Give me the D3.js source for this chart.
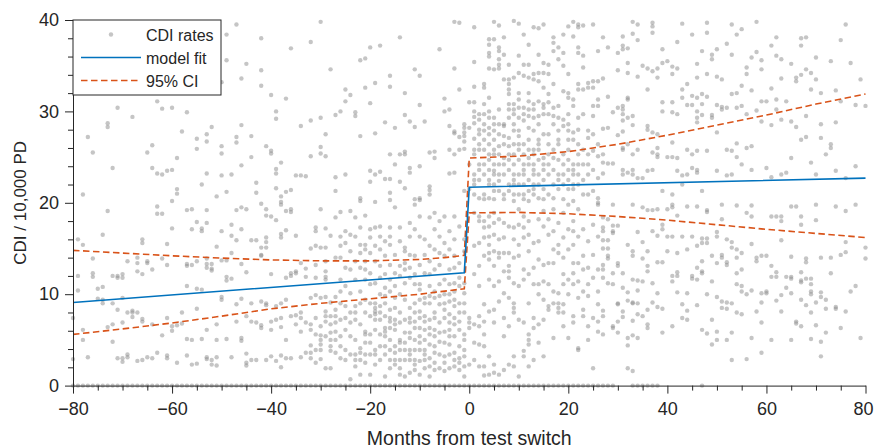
<!DOCTYPE html>
<html><head><meta charset="utf-8">
<script src="https://cdn.jsdelivr.net/npm/d3@7"></script>
<style>
body{margin:0;background:#fff}
svg{display:block}
text{font-family:"Liberation Sans",Arial,Helvetica,sans-serif;fill:#262626}
</style>
</head><body>
<svg id="chart" width="874" height="448"></svg>
<script>
// ---- DATA ----
const xTicks = [-80, -60, -40, -20, 0, 20, 40, 60, 80];
const xMinorTicks = [-75,-70,-65,-55,-50,-45,-35,-30,-25,-15,-10,-5,5,10,15,25,30,35,45,50,55,65,70,75];
const yTicks = [0, 10, 20, 30, 40];
const yMinorTicks = [2,4,6,8,12,14,16,18,22,24,26,28,32,34,36,38];

// model fit (month, CDI per 10,000 PD)
const fitMonths = [-80, -1, 0, 80];
const fitValues = [9.1, 12.35, 21.7, 22.7];
// 95% CI
const ciUpperMonths = [-80,-70,-60,-50,-40,-30,-20,-10,-5,-1,0,10,20,30,40,50,60,70,80];
const ciUpperValues = [14.8,14.5,14.2,13.95,13.75,13.65,13.65,13.8,14.0,14.25,24.9,25.1,25.6,26.4,27.4,28.5,29.6,30.8,31.9];
const ciLowerMonths = [-80,-70,-60,-50,-40,-30,-20,-10,-1,0,10,20,30,40,50,60,70,80];
const ciLowerValues = [5.6,6.2,6.85,7.6,8.4,9.0,9.5,10.0,10.6,18.9,18.95,18.8,18.5,18.1,17.6,17.1,16.65,16.2];

// CDI rates: each row = [month, rate, rate, ...]
const ratesPreHigh = [
[-78,20.9],[-77,27.2],[-76,25.5],[-73,28.7,28.3],[-72,23.8],[-71,30.4],[-68,29.4],[-65,25.5],[-64,26.3,23.8],[-63,31.1,23.2],[-62,30.3,23.1],[-61,23.5],[-60,30.4,23.6,20.2],[-59,24.9,21.5,21.0],[-58,27.8],[-57,29.9],[-55,27.0,25.9],[-54,22.0],[-53,27.5,26.7,23.2],[-52,28.3],[-51,20.7],[-50,33.2,26.2,25.4,23.0],[-49,38.4,35.6,21.2],[-48,23.1],[-47,39.5,27.2,26.6],[-46,33.6,28.5,24.1],[-45,35.2],[-44,27.3,25.0],[-43,22.2,21.1],[-42,38.0,34.5,32.8],[-41,26.2],[-40,31.8,25.7,25.4],[-39,30.0,29.2,23.7,23.2,21.6],[-38,24.4,20.7,20.1],[-37,31.4,21.2],[-36,36.9,21.4],[-35,23.0],[-34,28.4,23.0],[-33,22.9],[-32,37.6,29.0,25.1],[-30,39.8,29.3,26.1,25.4],[-29,27.5,25.1],[-28,34.6],[-27,29.6,22.8,21.3],
[-26,30.0],[-25,32.4,31.1,23.1],[-24,31.8],[-23,29.9,29.5],[-22,35.6,27.3,20.5,20.2],[-21,35.8,32.6],[-20,37.0,30.9,23.5,22.3],[-19,33.1,27.6,23.1,20.1],[-18,37.2,23.4],[-17,28.8,22.6],[-16,33.9,32.7,25.3,22.6,21.1,20.3],[-15,28.2,24.2],[-14,38.1,25.3,22.3],[-13,32.0,29.6,25.6,25.3,21.6],[-12,28.9,23.8,23.3],[-11,34.6,28.3,20.4],[-10,33.9,30.7,24.0,20.5,20.3],[-9,28.9],[-8,25.5,21.8,21.4,20.9],[-7,25.6,24.9],[-6,36.8],[-5,31.4,30.0],[-4,30.2,28.4,25.8,23.2],[-3,39.8,34.7,27.8,27.6,25.3,23.3],[-2,39.7,32.4,27.2,25.8],[-1,28.6,28.2,27.7,27.3,26.7,25.9,21.3]
];
const ratesPreLow = [
[-80,7.4,2.9],[-79,16.0,12.0,10.4],[-78,15.4,6.1,5.0],[-77,3.1],[-76,13.9,12.3,11.9],[-75,10.6,9.5],[-74,16.5,10.8,9.4,9.0],[-73,19.1,6.4],[-72,12.0,9.0,6.7,4.8],[-71,12.0,11.8,8.3,3.0],[-70,12.2,11.8,9.6,6.9,3.0,2.6],[-69,13.6,8.0,3.4,3.1],[-68,8.2,8.0,7.5],[-67,14.0,13.4,12.5,8.0,2.7],[-66,16.0,15.6,12.2,7.3,7.0,2.8],[-65,13.6,13.4,3.1],[-64,12.7,6.7,3.0],[-63,19.6,18.8,3.6],[-62,18.8,13.9,5.5],[-61,15.5,13.2,7.4,3.3,3.0],[-60,17.2,6.5,6.0],[-59,6.6,2.5],[-58,8.0,6.8],[-57,19.2,13.3,13.1,10.9,5.1,3.3],[-56,19.3,17.1,13.2,5.0,2.3],[-55,17.9,13.6,10.6,8.4,2.4],[-54,17.2,16.9,10.5,5.1],[-53,19.2,17.8,13.9,13.3,12.9,6.1,3.1,2.9],[-52,13.3,12.8,12.6,2.8,2.3],[-51,15.2,6.7,5.0,3.1,2.2],[-50,16.9,13.7,9.7,9.4],[-49,13.7,11.9,11.5,5.1],[-48,17.6,16.4,14.5,11.7,3.1],[-47,19.2,15.9,8.9,7.0],[-46,19.5,17.1,13.3,9.5,5.2,4.9],[-45,19.3,12.4,7.6,3.5,2.5,2.2],[-44,15.9,9.0,7.0,2.8],[-43,15.9,6.9,2.8],[-42,19.9,15.1,14.3,14.2,9.2,6.6,6.3],[-41,19.3,18.6,16.2,15.7,15.1,9.0,8.8,2.8],[-40,18.5,12.2,7.0,6.1,3.2],[-39,18.1,8.7,7.2,2.7],[-38,19.8,16.6,16.2,9.0,7.4,6.4,3.3,2.0],[-37,19.1,17.0,11.8,9.4,5.0,3.0],[-36,19.3,19.0,12.3,12.0,7.6,3.0],[-35,16.4,12.5,12.3,7.7,6.7],[-34,13.4,8.0,7.4,5.9,3.1],[-33,12.8,11.9,6.9,3.6],[-32,15.0,9.6,6.7,6.1,4.4,3.6,3.0],[-31,17.3,16.9,15.3,13.2,11.8,9.9,7.4,5.6,3.9,2.5],[-30,19.3,15.1,9.6,6.5,5.5,5.0,4.5,3.9,2.9],[-29,17.2,15.1,13.6,12.5,11.9,11.6,9.7,8.1,7.6,7.0,5.4,1.9],[-28,16.4,9.1,7.6,6.7,5.8,5.0,4.3,3.8,1.9],[-27,18.4,14.0,9.7,8.3,7.6,6.9,5.9,5.0,3.6],
[-26,19.0,16.3,15.3,14.0,11.6,10.3,9.0,7.2,5.4,4.3,3.0],
[-25,16.9,15.6,12.9,10.9,8.7,7.4,6.1,3.9,2.8],
[-24,19.1,16.5,14.7,12.7,10.1,8.0,6.9,5.4,3.4,0.7],
[-23,18.4,16.3,13.6,11.6,8.7,8.0,7.2,5.0,3.4,2.8,2.1],
[-22,17.3,15.4,14.5,12.9,10.3,9.0,6.7,4.1,3.6,2.8,1.2],
[-21,18.6,15.4,14.9,13.6,12.7,11.6,9.4,8.0,5.9,5.6,4.7,3.4,2.5],
[-20,17.1,16.2,14.5,12.3,11.1,9.0,7.6,5.6,4.7,3.4,1.2],
[-19,17.3,15.3,13.6,11.2,9.0,8.5,8.1,7.8,7.2,6.1,3.9,3.4,2.3],
[-18,17.4,16.3,14.9,13.1,11.8,10.0,8.7,8.0,7.2,5.6,4.3,2.8],
[-17,15.8,14.2,12.2,10.7,9.8,9.0,7.6,6.3,5.9,5.4,4.3,3.4,1.0],
[-16,17.3,16.3,15.4,13.2,11.6,10.3,8.3,7.4,7.0,6.3,5.0,3.9,2.8,1.9],
[-15,19.5,14.3,12.3,10.9,9.6,8.5,7.2,6.7,6.1,4.3,3.6,2.8,2.3],
[-14,17.3,15.8,13.1,12.0,10.0,8.0,6.9,5.0,4.7,3.9,2.8,1.9,1.2],
[-13,15.1,14.7,13.4,12.7,11.2,9.4,7.2,5.8,4.7,3.9,2.8,1.0],
[-12,17.8,16.3,14.3,12.9,11.8,8.5,7.4,6.9,5.8,5.2,3.9,3.4,2.8,1.4],
[-11,19.8,17.1,14.2,12.2,11.1,9.0,8.0,7.0,6.3,5.0,3.9,2.8,2.3,1.7],
[-10,18.5,16.3,13.2,11.1,10.5,9.4,8.1,7.4,6.3,5.4,4.7,3.9,2.7,1.2],
[-9,16.0,14.3,12.3,9.6,9.0,7.6,7.0,6.1,5.0,3.9,3.4,2.8,1.9],
[-8,18.4,15.3,13.6,12.2,10.9,9.8,9.0,7.2,6.3,5.6,4.5,3.0,2.1,1.0],
[-7,18.9,17.1,14.9,12.7,10.3,9.6,8.0,7.4,6.1,5.4,4.3,3.6,2.5,1.7],
[-6,18.0,16.3,14.5,13.2,11.1,9.8,8.9,6.9,5.8,4.8,3.4,1.9],
[-5,18.5,15.6,14.2,11.6,10.0,9.0,8.3,7.4,5.9,4.7,3.2,2.5,1.6],
[-4,16.9,14.9,12.7,11.1,10.0,9.2,7.8,6.9,6.1,5.4,4.5,3.4,1.9],
[-3,18.5,16.0,14.2,12.9,11.2,10.3,9.4,8.7,7.4,6.7,5.4,3.6,2.8,2.1],
[-2,17.4,13.4,11.8,10.9,9.0,8.0,7.0,6.1,4.3,3.0,2.5,1.7],
[-1,16.0,14.7,11.2,10.1,9.0,8.0,5.6,5.0,3.9,3.2,2.1,1.0]
];
const ratesPostHigh = [
[0,31.0,28.2,24.2,21.5],
[1,39.2,35.4,32.7,31.0,30.0,29.4,28.7,27.0,25.8,25.3,23.1,22.5,22.0,20.9],
[2,29.7,29.1,28.0,27.5,26.4,25.8,24.2,23.6,22.5,20.5],
[3,33.0,32.6,30.8,29.7,28.6,27.9,26.9,25.8,24.2,23.1,20.9,20.4],
[4,37.9,37.3,36.4,36.0,34.7,31.5,30.0,29.3,28.2,27.5,26.4,25.3,24.7,23.6,22.5,22.0,20.5],
[5,39.8,37.9,34.6,29.3,28.6,27.9,26.9,25.8,25.3,24.2,23.5,23.1,22.0,21.3,20.4],
[6,39.4,37.0,36.6,35.7,35.1,34.7,30.2,28.6,27.5,26.2,25.3,24.2,23.1,22.4,21.3],
[7,38.1,36.2,33.5,28.6,28.4,27.3,26.4,24.9,24.2,23.1,20.9,20.4],
[8,35.1,33.5,33.0,32.4,31.9,30.8,30.2,29.3,27.1,26.2,25.3,24.7,23.6,22.0,21.3],
[9,39.9,33.7,30.8,30.2,29.7,28.6,27.9,26.4,25.3,24.2,23.1,22.5,22.0,20.9,20.2],
[10,39.6,36.1,34.2,32.0,31.3,30.4,29.3,27.9,27.3,26.4,25.8,24.7,23.1,22.0,20.9],
[11,38.4,35.1,33.9,30.4,29.7,29.0,26.4,25.3,24.2,23.6,23.1,22.0,20.9,20.4],
[12,37.3,35.1,33.7,32.0,31.1,30.2,29.5,28.2,26.9,25.8,24.9,24.2,22.5,21.3,20.2],
[13,39.2,34.1,33.5,30.8,30.2,29.3,27.9,25.8,25.3,24.2,23.6,23.1,22.0,21.5,20.9],
[14,39.1,36.2,34.2,33.3,31.1,29.5,28.6,26.9,26.4,25.8,24.7,23.1,22.0,20.5],
[15,39.5,35.3,34.2,32.6,30.8,30.4,29.7,27.5,24.9,24.2,23.6,22.5,21.5,20.4],
[16,35.1,34.1,31.9,31.0,29.7,27.5,26.4,25.3,24.2,23.1,20.9],
[17,38.1,37.5,36.6,33.0,30.4,29.5,28.6,25.8,24.9,23.6,22.0,20.5],
[18,37.0,35.7,30.6,29.3,27.9,26.9,26.4,24.7,23.1,22.5,21.5],
[19,38.4,36.4,35.0,32.2,29.1,28.4,25.3,24.2,23.1,22.0,20.4],
[20,39.3,34.1,32.0,31.5,29.7,28.6,27.9,26.9,25.8,24.7,23.6,22.5,21.5],
[21,39.8,38.2,31.3,30.6,27.7,26.9,24.2,23.6,23.1,22.0,21.5,20.2],
[22,39.5,39.2,37.0,36.4,33.0,32.4,29.3,28.0,26.4,25.3,24.2,23.1,22.0],
[23,39.4,36.1,34.8,32.4,29.7,25.8,24.2,22.5,20.9],
[24,33.1,32.6,27.9,27.1,25.3,24.2,23.1,20.9],
[25,39.5,33.3,32.6,30.6,29.5,27.5,25.7,23.6,21.3],
[26,36.6,33.3,31.3,30.6,26.4,25.1,22.7,20.5,20.0],
[27,38.1,33.6,28.1,25.3,24.4,23.2],[28,37.0,31.6,28.2,24.3],[29,29.9,24.3],[30,36.4,34.5,30.4,27.4],
[31,38.2,37.2,36.8,30.6,30.2,29.7,29.0,27.8,26.0,25.8,23.6,23.1],[32,36.9,35.3,34.2,31.5,31.3,29.3,26.4,23.3],
[33,39.8,38.5,29.5,28.5,25.3,23.6,23.1],[34,39.5,37.8,33.8,25.8,22.7],[35,35.0,22.7],[36,34.7,32.4,28.4,28.0,23.5],
[37,39.7,39.3,38.6,34.4,27.7,25.5,23.6],[38,34.7,33.7,27.5,26.0,25.3,25.0],[39,36.8,35.3,31.0,30.0,21.3],[40,35.5,25.0],
[41,34.9,34.1,31.0,29.9,26.6,25.0,20.9],[42,37.6,34.7,29.7,24.9,23.5],[43,39.6,32.4,31.5,23.0,22.0],[44,33.0,30.7,25.8,23.1],
[45,38.4,31.7,30.7,25.3,23.8],[46,35.2,33.7,31.5,30.0,29.3,28.8,25.7,23.6,23.3],[47,36.6,31.9,30.8,29.6,21.3],[48,39.7,38.6,34.1,31.6,25.7],
[49,36.2,35.7,29.6,29.3],[50,36.8,33.8,30.7,27.7,23.5],[51,33.5,30.5,30.2],[52,37.4,30.4,25.8,23.0],[53,39.5,36.2,31.9,25.7,23.1],
[54,38.4,32.0,30.4,26.5,25.0],[55,39.0,32.8,30.6,24.2],[56,34.8,34.1,29.7,26.0],[57,35.9,32.3,26.2,23.6],[58,39.8,36.5,30.1],
[59,35.6,34.6,31.1,28.9],[60,31.1,23.8],[61,37.2,32.5,28.5,22.8],[62,38.1,36.1,31.3,30.2],[63,35.7,33.6,29.1,23.1],[64,31.1,23.3],
[65,35.2,28.9,24.9],[66,33.7,33.3,28.3],[67,38.0,37.2,34.0,26.9],[68,38.1,34.6,29.5,27.2],[69,34.2,32.4,24.4],[70,35.9,33.5,23.1],
[71,32.0,28.6,27.1],[72,25.3],[73,35.5,26.4,26.0],[74,32.3,28.8,23.5],[75,37.8,31.1],[76,39.5,22.7],[77,35.3],[78,30.7,24.0],[79,33.5],[80,30.6]
];
const ratesPostLow = [
[0,7.4,6.9,6.3,2.3],
[1,18.9,15.3,12.2,6.7,4.7,2.8],
[2,18.5,18.0,15.6,13.1,10.9,7.6,6.5,4.5,2.1],
[3,18.0,17.3,16.2,14.2,8.9,7.0,5.6,4.3,2.1,1.1],
[4,18.5,17.4,16.3,15.4,14.5,13.8,11.6,8.1,3.2,1.2],
[5,18.9,17.8,16.5,14.7,13.1,10.9,8.3,6.9,2.3,1.4],
[6,18.2,16.0,14.5,14.0,11.4,9.2,1.2],
[7,17.8,16.2,14.5,12.5,10.1,7.4,5.4,1.7],
[8,17.4,14.5,13.1,12.5,11.8,9.6,6.5,2.3],
[9,17.3,16.0,14.0,11.2,9.0,8.5,8.0,3.2,2.1],
[10,19.3,17.6,15.4,14.2,10.9,7.2,1.0],
[11,18.5,17.3,16.2,12.7,11.6,6.9,3.8,3.2],
[12,18.0,16.5,14.7,12.2,9.0,5.6,5.0,4.5,2.1],
[13,15.6,12.9,11.1,7.4,6.3,2.8],
[14,18.2,15.8,13.8,11.1,10.0,6.7,4.7],
[15,19.1,17.4,13.2,11.4,9.4,7.2,3.2],
[16,18.2,16.5,13.4,11.1,8.7,8.3],
[17,19.3,16.9,14.9,13.4,10.3,9.0,5.2],
[18,17.8,15.4,14.5,10.1,9.0,8.5,8.0],
[19,18.9,16.2,14.0,12.2,11.1,8.9,8.0,6.5],
[20,19.8,17.1,14.9,11.6,10.0,5.2],
[21,18.0,16.9,15.4,13.4,12.3,11.1,7.6,6.9],
[22,19.3,16.3,13.4,11.4,9.6,4.1,3.9],
[23,17.1,14.2,12.7,10.3,8.3,7.6],
[24,15.8,12.9,11.1,9.8,6.5,5.0],
[25,17.6,14.3,11.8,7.4,1.9],
[26,19.8,16.3,12.7,10.3,8.9,7.0,5.9],
[27,18.4,17.3,16.9,15.9,15.0,13.2,12.7,11.8,8.2,7.6,5.6],[28,18.2,15.9,15.0,14.2,13.9,11.2],
[29,19.8,17.5,16.9,16.7,12.3,11.1,6.5,6.3],[30,17.5,13.4,13.1,9.0,8.9,7.0,5.8],[31,12.3,10.7,8.1,7.5],
[32,15.4,10.2,9.3,5.2,4.4,1.9],[33,19.8,14.7,14.2,11.6,9.1,9.0,7.1,5.5,1.6],[34,16.8,11.5,10.4,9.0,7.8,5.2],
[35,19.5,15.7,13.9,11.4,7.6],[36,19.2,14.7,13.1,12.5,8.3,6.7,6.3],[37,19.2,16.9,11.2,9.1],[38,19.3,16.4,13.5,10.1,8.6],
[39,17.6,17.1,13.5,8.4,5.8],[40,19.3,16.3,14.7],[41,19.8,19.5,16.3,12.0,11.4,6.5],[42,18.6,14.5,12.4,12.0,10.2],
[43,16.3,8.9,7.4],[44,19.6,14.9,10.1,8.2,7.2],[45,16.3,12.0,11.7],[46,19.6,15.3,12.9,11.6,8.8],
[47,16.1,15.6,13.6,12.5,12.3,6.1],[48,19.2,19.0,16.1,15.6,10.0,5.7],[49,14.2,11.4,7.2,4.5],[50,16.8,16.3,13.4,9.7,5.9,5.0],
[51,19.8,18.2,14.3,14.0,9.2,8.5],[52,16.0,13.5,13.2,9.1,8.4,5.0],[53,15.7,15.1,9.0,5.8,2.8],[54,19.7,14.9,14.0,12.3,11.1,8.0],
[55,14.5,12.7,10.9,10.3,7.8],[56,18.9,10.0,2.9],[57,19.7,18.5,15.5,10.4,5.2],[58,14.0,13.6,8.1],[59,14.2,10.1,9.1,6.9,3.6],
[60,14.2,10.3,10.1],[61,18.5,13.1,11.9,5.0],[62,18.5,12.4,11.9,9.3],[63,18.5,18.0,15.9,9.9,8.1],[64,11.9,10.7],
[65,19.6,14.1,11.9,11.7,10.1,5.0],[66,19.6,7.0,6.8],[67,18.5,17.6,12.4,11.5,11.3,9.4,6.5],[68,13.9,13.5,11.7,8.8],
[69,11.7,11.1,10.3,10.0,8.0,5.1],[70,19.8,18.1,9.1,6.6],[71,14.0,10.2,9.7,4.8,3.2],[72,9.4,8.4,5.8],[73,14.0,12.3],
[74,19.6,8.6,8.4],[75,14.3,6.3],[76,19.1,15.7,14.6,8.1],[77,10.3],[78,19.8,10.9],[79,5.2],[80,15.1,13.9]
];
// months with a CDI rate of zero
const zeroRateMonths = [-80,-79,-78,-77,-76,-75,-74,-73,-72,-71,-70,-69,-68,-67,-66,-65,-64,-63,-62,-61,-60,-59,-58,-57,-56,-55,-54,-53,-52,-51,-50,-49,-48,-47,-46,-45,-44,-43,-42,-41,-40,-39,-38,-37,-36,-35,-34,-33,-32,-31,-30,-29,-28,-27,-26,-25,-24,-23,-22,-21,-20,-19,-18,-17,-16,-15,-14,-13,-12,-11,-10,-9,-8,-7,-6,-5,-4,-3,-2,-1,0,1,2,3,4,5,6,7,8,9,10,11,12,13,14,15,16,17,18,19,20,21,22,23,24,25,26,27,28,29,33,34,35,36,37,38,47];

const legendLabels = ["CDI rates", "model fit", "95% CI"];
const xLabel = "Months from test switch";
const yLabel = "CDI / 10,000 PD";

// ---- CHART ----
const W = 874, H = 448;
const margin = {top: 20, right: 8.5, bottom: 62.4, left: 73};
const axisColor = "#262626";
const blue = "#0072BD", orange = "#D95319";

const svg = d3.select("#chart");
const x = d3.scaleLinear().domain([-80, 80]).range([margin.left, W - margin.right]);
const y = d3.scaleLinear().domain([0, 40]).range([H - margin.bottom, margin.top]);

const rowsToPoints = rows => rows.flatMap(r => r.slice(1).map(v => ({m: r[0], v})));
const points = [
  ...rowsToPoints(ratesPreHigh), ...rowsToPoints(ratesPreLow),
  ...rowsToPoints(ratesPostHigh), ...rowsToPoints(ratesPostLow),
  ...zeroRateMonths.map(m => ({m, v: 0}))
];

svg.append("g").selectAll("circle").data(points).join("circle")
  .attr("cx", d => x(d.m)).attr("cy", d => y(d.v)).attr("r", 2.2)
  .attr("fill", "#8c8c8c").attr("fill-opacity", 0.5);

const line = d3.line().x(d => x(d[0])).y(d => y(d[1]));
const zip = (a, b) => a.map((m, i) => [m, b[i]]);

svg.append("path").datum(zip(ciUpperMonths, ciUpperValues)).attr("d", line)
  .attr("fill", "none").attr("stroke", orange).attr("stroke-width", 1.6).attr("stroke-dasharray", "6.5,3.5");
svg.append("path").datum(zip(ciLowerMonths, ciLowerValues)).attr("d", line)
  .attr("fill", "none").attr("stroke", orange).attr("stroke-width", 1.6).attr("stroke-dasharray", "6.5,3.5");
svg.append("path").datum(zip(fitMonths, fitValues)).attr("d", line)
  .attr("fill", "none").attr("stroke", blue).attr("stroke-width", 1.6);

// axes
function styleAxis(g) {
  g.selectAll("path, line").attr("stroke", axisColor).attr("stroke-width", 1);
  g.selectAll("text").attr("fill", axisColor).style("font-size", "18px")
    .style("font-family", '"Liberation Sans", Arial, sans-serif');
}
const xBase = H - margin.bottom;
svg.append("g").attr("transform", `translate(0,${xBase})`)
  .call(d3.axisBottom(x).tickValues(xMinorTicks).tickSize(5).tickFormat("").tickSizeOuter(0))
  .call(styleAxis).call(g => g.select(".domain").remove());
svg.append("g").attr("transform", `translate(0,${xBase})`)
  .call(d3.axisBottom(x).tickValues(xTicks).tickSize(8).tickPadding(9).tickSizeOuter(0))
  .call(styleAxis)
  .call(g => g.selectAll(".tick").filter(d => d === xTicks[xTicks.length - 1]).select("text")
    .attr("text-anchor", "end").attr("x", W - 1 - x(xTicks[xTicks.length - 1])));
svg.append("g").attr("transform", `translate(${margin.left},0)`)
  .call(d3.axisLeft(y).tickValues(yMinorTicks).tickSize(5).tickFormat("").tickSizeOuter(0))
  .call(styleAxis).call(g => g.select(".domain").remove());
svg.append("g").attr("transform", `translate(${margin.left},0)`)
  .call(d3.axisLeft(y).tickValues(yTicks).tickSize(8).tickPadding(6).tickSizeOuter(0))
  .call(styleAxis);

// axis labels
svg.append("text").attr("x", x(0)).attr("y", 445).attr("text-anchor", "middle")
  .style("font-size", "19.5px").text(xLabel);
svg.append("text").attr("transform", `translate(26,${(margin.top + xBase) / 2}) rotate(-90)`)
  .attr("text-anchor", "middle").style("font-size", "17px").text(yLabel);

// legend
const lg = svg.append("g");
lg.append("rect").attr("x", margin.left).attr("y", margin.top).attr("width", 148).attr("height", 75)
  .attr("fill", "#fff").attr("stroke", axisColor).attr("stroke-width", 1);
const rowsY = [34.5, 57.5, 80.5];
lg.append("circle").attr("cx", 111).attr("cy", rowsY[0]).attr("r", 2.2).attr("fill", "#8c8c8c").attr("fill-opacity", 0.5);
lg.append("line").attr("x1", 81).attr("x2", 141).attr("y1", rowsY[1]).attr("y2", rowsY[1])
  .attr("stroke", blue).attr("stroke-width", 1.6);
lg.append("line").attr("x1", 81).attr("x2", 141).attr("y1", rowsY[2]).attr("y2", rowsY[2])
  .attr("stroke", orange).attr("stroke-width", 1.6).attr("stroke-dasharray", "6.5,3.5");
lg.selectAll("text.leg").data(legendLabels).join("text").attr("class", "leg")
  .attr("x", 146).attr("y", (d, i) => rowsY[i] + 6).style("font-size", "16px").text(d => d);
</script>
</body></html>
